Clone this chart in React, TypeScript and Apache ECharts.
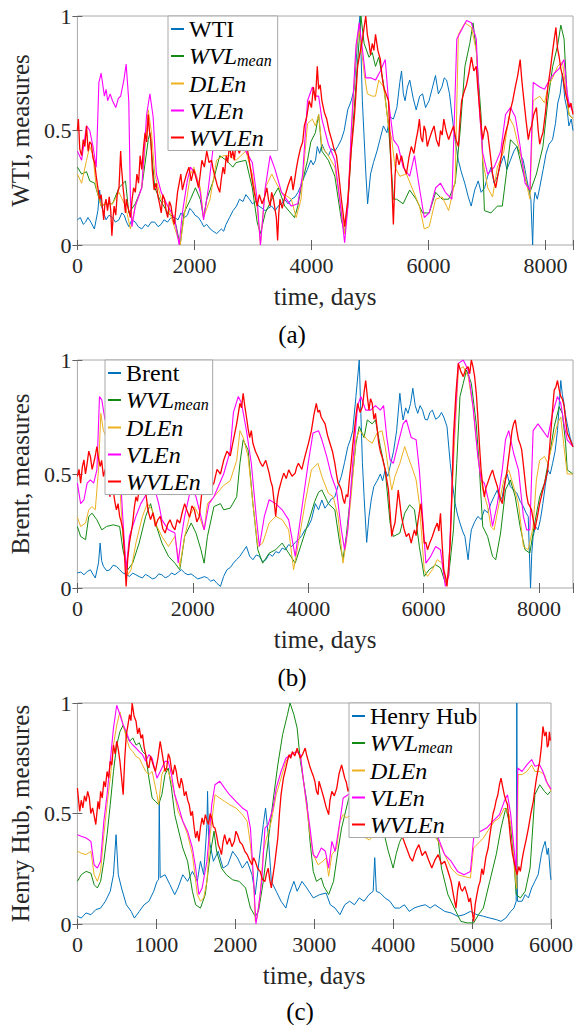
import React, { useEffect, useRef } from "react";
import * as echarts from "echarts";

// ---------- Panel (a): WTI ----------
const WTI_A = [[0,0.11],[50,0.12],[100,0.09],[140,0.1],[180,0.12],[230,0.1],[290,0.07],[350,0.15],[380,0.24],[410,0.17],[450,0.14],[490,0.11],[540,0.13],[600,0.12],[650,0.1],[710,0.11],[760,0.14],[800,0.13],[840,0.1],[880,0.08],[930,0.11],[990,0.1],[1040,0.08],[1100,0.07],[1160,0.09],[1210,0.08],[1260,0.1],[1320,0.1],[1380,0.08],[1430,0.09],[1480,0.11],[1540,0.1],[1600,0.12],[1660,0.12],[1720,0.11],[1770,0.14],[1830,0.12],[1880,0.13],[1920,0.16],[1960,0.15],[2010,0.13],[2070,0.12],[2120,0.1],[2160,0.08],[2210,0.09],[2270,0.07],[2320,0.06],[2380,0.05],[2420,0.06],[2460,0.07],[2500,0.06],[2540,0.09],[2600,0.12],[2660,0.15],[2720,0.17],[2770,0.2],[2830,0.19],[2880,0.22],[2940,0.2],[2990,0.18],[3050,0.19],[3100,0.17],[3160,0.16],[3210,0.15],[3260,0.16],[3320,0.17],[3380,0.15],[3430,0.17],[3490,0.18],[3540,0.2],[3600,0.18],[3660,0.2],[3720,0.21],[3770,0.23],[3820,0.26],[3880,0.3],[3930,0.33],[3990,0.37],[4030,0.35],[4070,0.37],[4100,0.43],[4140,0.4],[4180,0.44],[4230,0.41],[4290,0.39],[4340,0.42],[4400,0.41],[4450,0.43],[4510,0.46],[4560,0.5],[4620,0.59],[4680,0.63],[4730,0.68],[4790,0.9],[4830,1.0],[4870,0.63],[4930,0.31],[4960,0.18],[5010,0.31],[5060,0.36],[5120,0.41],[5170,0.46],[5230,0.52],[5290,0.49],[5340,0.56],[5400,0.55],[5460,0.6],[5510,0.71],[5540,0.76],[5570,0.66],[5600,0.63],[5640,0.69],[5680,0.72],[5740,0.64],[5790,0.59],[5850,0.65],[5900,0.66],[5950,0.6],[6010,0.63],[6060,0.68],[6120,0.74],[6170,0.66],[6230,0.69],[6270,0.73],[6310,0.72],[6360,0.66],[6400,0.57],[6460,0.45],[6510,0.37],[6560,0.32],[6620,0.27],[6680,0.21],[6730,0.17],[6790,0.24],[6850,0.28],[6900,0.23],[6960,0.25],[7010,0.3],[7070,0.34],[7120,0.27],[7180,0.3],[7230,0.35],[7290,0.39],[7340,0.33],[7400,0.37],[7460,0.41],[7510,0.43],[7560,0.4],[7620,0.37],[7670,0.3],[7710,0.25],[7750,0.2],[7780,0.0],[7800,0.18],[7820,0.23],[7860,0.2],[7900,0.25],[7960,0.33],[8010,0.4],[8060,0.44],[8120,0.46],[8170,0.53],[8210,0.62],[8250,0.66],[8290,0.75],[8330,0.64],[8370,0.59],[8400,0.52],[8440,0.55],[8470,0.5]];
const WVL_A = [[0,0.34],[72,0.31],[156,0.32],[211,0.28],[294,0.27],[406,0.17],[489,0.18],[600,0.18],[711,0.25],[822,0.28],[878,0.14],[989,0.18],[1100,0.25],[1211,0.46],[1239,0.49],[1322,0.25],[1406,0.2],[1544,0.14],[1656,0.12],[1756,0.0],[1822,0.14],[1933,0.2],[2017,0.25],[2100,0.2],[2156,0.12],[2211,0.2],[2322,0.28],[2433,0.39],[2544,0.37],[2656,0.34],[2711,0.36],[2878,0.37],[2989,0.25],[3072,0.1],[3128,0.05],[3211,0.14],[3322,0.2],[3433,0.25],[3544,0.17],[3711,0.12],[3767,0.17],[3822,0.25],[3933,0.37],[3989,0.45],[4067,0.49],[4123,0.57],[4178,0.41],[4289,0.37],[4400,0.3],[4511,0.11],[4567,0.05],[4623,0.17],[4678,0.41],[4761,0.7],[4845,1.0],[4900,0.88],[4984,0.82],[5039,0.84],[5095,0.78],[5150,0.82],[5234,0.7],[5317,0.52],[5400,0.2],[5456,0.2],[5567,0.18],[5678,0.24],[5789,0.2],[5900,0.14],[6012,0.14],[6123,0.23],[6234,0.2],[6345,0.2],[6456,0.27],[6539,0.49],[6623,0.78],[6706,0.88],[6762,0.97],[6817,0.85],[6900,0.56],[6956,0.15],[7067,0.14],[7178,0.17],[7262,0.17],[7345,0.34],[7401,0.46],[7512,0.43],[7623,0.31],[7734,0.23],[7845,0.31],[7956,0.43],[8040,0.63],[8123,0.78],[8206,0.87],[8262,0.96],[8317,0.9],[8373,0.63],[8401,0.57],[8470,0.55]];
const DLE_A = [[0,0.31],[72,0.27],[156,0.37],[211,0.43],[267,0.39],[322,0.25],[406,0.17],[489,0.18],[600,0.18],[711,0.23],[822,0.17],[906,0.07],[989,0.17],[1100,0.25],[1211,0.59],[1267,0.49],[1322,0.31],[1433,0.2],[1544,0.17],[1656,0.08],[1756,0.0],[1822,0.12],[1933,0.31],[1989,0.34],[2100,0.25],[2156,0.12],[2267,0.2],[2378,0.37],[2489,0.39],[2600,0.39],[2711,0.37],[2878,0.41],[2989,0.31],[3072,0.17],[3128,0.0],[3211,0.25],[3322,0.31],[3378,0.28],[3489,0.23],[3656,0.2],[3739,0.12],[3822,0.2],[3933,0.53],[4017,0.55],[4067,0.52],[4123,0.57],[4178,0.43],[4289,0.39],[4400,0.34],[4511,0.15],[4567,0.05],[4623,0.2],[4678,0.46],[4761,0.85],[4817,0.94],[4900,0.75],[4956,0.66],[5039,0.65],[5095,0.65],[5150,0.72],[5234,0.69],[5317,0.52],[5373,0.46],[5428,0.34],[5511,0.3],[5623,0.31],[5734,0.24],[5845,0.17],[5928,0.07],[6012,0.08],[6123,0.2],[6234,0.21],[6345,0.15],[6456,0.28],[6511,0.92],[6623,0.97],[6734,0.95],[6817,0.85],[6873,0.59],[6928,0.37],[7012,0.25],[7095,0.21],[7178,0.34],[7289,0.41],[7373,0.56],[7456,0.52],[7540,0.43],[7623,0.34],[7706,0.23],[7734,0.2],[7790,0.63],[7901,0.65],[7984,0.62],[8040,0.69],[8123,0.73],[8206,0.78],[8290,0.8],[8373,0.63],[8401,0.57],[8470,0.55]];
const VLE_A = [[0,0.41],[72,0.37],[156,0.52],[211,0.5],[267,0.43],[322,0.34],[367,0.71],[406,0.75],[461,0.65],[490,0.68],[517,0.63],[560,0.66],[600,0.63],[656,0.6],[700,0.64],[739,0.65],[794,0.72],[833,0.79],[878,0.63],[906,0.2],[933,0.08],[989,0.17],[1100,0.25],[1183,0.57],[1239,0.66],[1294,0.56],[1350,0.31],[1433,0.23],[1544,0.17],[1656,0.12],[1739,0.0],[1794,0.14],[1878,0.28],[1933,0.34],[2017,0.31],[2100,0.23],[2156,0.11],[2239,0.25],[2322,0.43],[2433,0.44],[2544,0.46],[2656,0.45],[2767,0.44],[2878,0.41],[2989,0.36],[3072,0.2],[3128,0.0],[3211,0.25],[3294,0.39],[3378,0.33],[3489,0.23],[3656,0.17],[3767,0.18],[3850,0.31],[3933,0.63],[4017,0.69],[4067,0.65],[4123,0.65],[4178,0.55],[4289,0.44],[4400,0.37],[4484,0.2],[4567,0.01],[4623,0.17],[4678,0.49],[4761,0.87],[4817,0.97],[4873,0.85],[4928,0.73],[5011,0.73],[5095,0.72],[5178,0.76],[5261,0.81],[5317,0.63],[5400,0.46],[5484,0.43],[5567,0.34],[5678,0.3],[5761,0.39],[5845,0.25],[5928,0.12],[6012,0.14],[6123,0.25],[6206,0.27],[6289,0.23],[6400,0.2],[6484,0.9],[6567,0.94],[6650,0.98],[6734,0.97],[6817,0.9],[6873,0.58],[6928,0.4],[7012,0.31],[7123,0.34],[7234,0.41],[7317,0.57],[7401,0.6],[7484,0.56],[7567,0.43],[7651,0.27],[7734,0.24],[7790,0.71],[7901,0.69],[7984,0.68],[8067,0.72],[8151,0.75],[8234,0.77],[8317,0.81],[8373,0.66],[8401,0.62],[8470,0.58]];
const WVLE_A = [[0,0.5],[17,0.55],[40,0.42],[72,0.39],[100,0.46],[128,0.43],[156,0.52],[183,0.41],[211,0.45],[239,0.44],[267,0.38],[294,0.36],[322,0.3],[350,0.25],[378,0.2],[406,0.22],[430,0.16],[450,0.11],[470,0.18],[489,0.2],[515,0.15],[544,0.21],[570,0.15],[589,0.04],[610,0.12],[628,0.17],[655,0.13],[680,0.22],[711,0.25],[725,0.33],[739,0.41],[753,0.34],[767,0.3],[780,0.25],[794,0.22],[808,0.17],[822,0.14],[836,0.2],[850,0.18],[878,0.15],[906,0.12],[935,0.2],[961,0.25],[990,0.23],[1017,0.31],[1045,0.27],[1072,0.39],[1100,0.33],[1128,0.42],[1156,0.49],[1183,0.45],[1211,0.57],[1230,0.5],[1256,0.46],[1280,0.33],[1311,0.24],[1345,0.27],[1378,0.21],[1405,0.18],[1433,0.14],[1460,0.22],[1489,0.2],[1515,0.15],[1544,0.12],[1572,0.19],[1600,0.17],[1628,0.12],[1656,0.09],[1683,0.16],[1711,0.23],[1740,0.27],[1767,0.31],[1795,0.24],[1822,0.27],[1865,0.31],[1906,0.34],[1945,0.28],[1989,0.33],[2030,0.29],[2072,0.25],[2100,0.31],[2128,0.37],[2170,0.34],[2211,0.41],[2250,0.36],[2294,0.37],[2320,0.33],[2350,0.3],[2390,0.26],[2433,0.23],[2460,0.29],[2489,0.34],[2515,0.31],[2544,0.39],[2570,0.36],[2600,0.44],[2628,0.38],[2656,0.41],[2683,0.37],[2711,0.45],[2740,0.42],[2767,0.4],[2820,0.44],[2878,0.46],[2930,0.38],[2989,0.28],[3030,0.22],[3072,0.17],[3110,0.22],[3156,0.18],[3200,0.21],[3239,0.25],[3265,0.2],[3294,0.17],[3320,0.23],[3350,0.2],[3375,0.16],[3400,0.12],[3422,0.02],[3440,0.13],[3461,0.2],[3500,0.16],[3544,0.21],[3600,0.26],[3656,0.3],[3685,0.24],[3711,0.28],[3740,0.33],[3767,0.37],[3810,0.42],[3850,0.45],[3878,0.52],[3920,0.56],[3961,0.63],[4000,0.6],[4033,0.69],[4067,0.63],[4100,0.78],[4123,0.68],[4150,0.7],[4178,0.63],[4220,0.58],[4261,0.55],[4300,0.5],[4345,0.46],[4385,0.42],[4428,0.39],[4470,0.3],[4511,0.2],[4540,0.14],[4567,0.08],[4595,0.14],[4623,0.2],[4650,0.3],[4678,0.41],[4705,0.48],[4734,0.56],[4760,0.66],[4789,0.78],[4830,0.84],[4873,0.9],[4900,0.95],[4928,1.0],[4955,0.92],[4984,0.88],[5010,0.83],[5039,0.88],[5067,0.85],[5095,0.92],[5135,0.85],[5178,0.81],[5205,0.74],[5234,0.69],[5275,0.66],[5317,0.63],[5345,0.45],[5373,0.27],[5400,0.09],[5428,0.3],[5456,0.4],[5497,0.35],[5539,0.39],[5580,0.34],[5623,0.31],[5665,0.38],[5706,0.43],[5750,0.4],[5789,0.46],[5820,0.5],[5845,0.55],[5872,0.47],[5900,0.45],[5925,0.52],[5950,0.5],[5980,0.43],[6012,0.46],[6050,0.49],[6095,0.52],[6135,0.46],[6178,0.43],[6205,0.5],[6234,0.48],[6262,0.55],[6300,0.5],[6345,0.46],[6385,0.49],[6428,0.52],[6470,0.46],[6511,0.43],[6540,0.55],[6567,0.63],[6610,0.67],[6650,0.7],[6690,0.75],[6734,0.82],[6775,0.76],[6817,0.78],[6845,0.68],[6873,0.6],[6900,0.52],[6928,0.46],[6970,0.52],[7012,0.49],[7050,0.41],[7095,0.31],[7120,0.28],[7150,0.25],[7190,0.31],[7234,0.37],[7275,0.44],[7317,0.49],[7360,0.53],[7401,0.59],[7440,0.63],[7484,0.69],[7525,0.74],[7567,0.81],[7595,0.72],[7623,0.65],[7665,0.55],[7706,0.46],[7735,0.5],[7762,0.52],[7800,0.57],[7845,0.6],[7875,0.5],[7901,0.44],[7930,0.47],[7956,0.49],[8000,0.58],[8040,0.69],[8080,0.76],[8123,0.85],[8150,0.9],[8178,0.95],[8205,0.86],[8234,0.82],[8262,0.77],[8290,0.74],[8318,0.7],[8345,0.66],[8375,0.63],[8401,0.6],[8435,0.62],[8470,0.57]];

// ---------- Panel (b): Brent ----------
const BRENT_B = [[0,0.066],[60,0.07],[113,0.058],[170,0.072],[225,0.08],[270,0.06],[310,0.044],[366,0.11],[394,0.197],[420,0.12],[451,0.095],[510,0.075],[563,0.08],[620,0.1],[676,0.095],[730,0.08],[789,0.066],[845,0.06],[901,0.051],[960,0.065],[1014,0.058],[1070,0.05],[1127,0.044],[1180,0.06],[1239,0.051],[1300,0.04],[1352,0.044],[1410,0.062],[1465,0.058],[1520,0.045],[1578,0.051],[1630,0.066],[1690,0.058],[1750,0.07],[1803,0.08],[1860,0.066],[1916,0.058],[1970,0.062],[2028,0.051],[2085,0.04],[2141,0.044],[2200,0.05],[2254,0.044],[2310,0.03],[2366,0.036],[2420,0.02],[2479,0.007],[2535,0.051],[2592,0.08],[2650,0.09],[2704,0.109],[2760,0.125],[2817,0.139],[2870,0.16],[2930,0.182],[2985,0.14],[3042,0.124],[3100,0.145],[3155,0.139],[3210,0.115],[3268,0.124],[3325,0.15],[3380,0.139],[3440,0.16],[3493,0.153],[3550,0.175],[3606,0.168],[3660,0.19],[3718,0.182],[3775,0.2],[3831,0.212],[3890,0.23],[3944,0.255],[4000,0.27],[4056,0.299],[4124,0.37],[4180,0.343],[4237,0.386],[4290,0.35],[4349,0.37],[4400,0.39],[4462,0.4],[4520,0.45],[4575,0.489],[4630,0.55],[4687,0.62],[4730,0.65],[4772,0.69],[4828,0.84],[4885,1.0],[4913,0.766],[4940,0.55],[4969,0.4],[5014,0.2],[5054,0.314],[5095,0.39],[5138,0.445],[5195,0.47],[5251,0.5],[5290,0.47],[5335,0.518],[5380,0.49],[5420,0.533],[5480,0.6],[5533,0.69],[5589,0.854],[5620,0.78],[5645,0.737],[5690,0.79],[5730,0.766],[5775,0.81],[5814,0.876],[5855,0.8],[5899,0.766],[5940,0.8],[5983,0.78],[6025,0.74],[6068,0.737],[6110,0.77],[6152,0.78],[6210,0.74],[6265,0.75],[6310,0.77],[6350,0.75],[6406,0.708],[6462,0.547],[6505,0.45],[6547,0.37],[6590,0.32],[6631,0.285],[6675,0.25],[6716,0.226],[6772,0.124],[6800,0.2],[6828,0.255],[6885,0.29],[6941,0.314],[7000,0.3],[7054,0.343],[7110,0.33],[7166,0.37],[7220,0.4],[7279,0.43],[7320,0.38],[7364,0.4],[7405,0.46],[7448,0.5],[7504,0.445],[7560,0.43],[7617,0.416],[7675,0.38],[7730,0.357],[7775,0.33],[7814,0.314],[7835,0.15],[7854,0.0],[7875,0.15],[7899,0.226],[7940,0.27],[7983,0.255],[8025,0.3],[8068,0.37],[8110,0.45],[8152,0.518],[8195,0.5],[8237,0.547],[8280,0.6],[8321,0.69],[8350,0.8],[8378,0.91],[8405,0.85],[8434,0.81],[8460,0.76],[8490,0.72],[8540,0.66],[8590,0.62]];
const WVL_B = [[0,0.27],[56,0.226],[141,0.212],[197,0.314],[254,0.328],[338,0.299],[423,0.255],[507,0.27],[620,0.277],[732,0.27],[789,0.168],[873,0.08],[958,0.109],[1070,0.197],[1183,0.314],[1268,0.37],[1352,0.285],[1465,0.197],[1578,0.139],[1690,0.109],[1775,0.08],[1859,0.226],[1972,0.285],[2056,0.241],[2141,0.168],[2197,0.109],[2254,0.226],[2366,0.357],[2479,0.37],[2535,0.343],[2648,0.35],[2761,0.4],[2817,0.547],[2873,0.65],[2958,0.606],[3042,0.37],[3127,0.168],[3211,0.109],[3324,0.153],[3437,0.168],[3549,0.197],[3662,0.153],[3775,0.109],[3887,0.197],[4000,0.285],[4113,0.38],[4180,0.42],[4237,0.43],[4349,0.37],[4462,0.343],[4547,0.197],[4603,0.124],[4659,0.226],[4744,0.43],[4828,0.635],[4885,0.708],[4969,0.66],[5025,0.737],[5110,0.72],[5166,0.737],[5251,0.62],[5335,0.518],[5420,0.285],[5476,0.226],[5589,0.241],[5673,0.328],[5758,0.365],[5842,0.343],[5927,0.182],[6011,0.051],[6096,0.08],[6209,0.102],[6293,0.088],[6378,0.022],[6434,0.051],[6518,0.255],[6575,0.547],[6631,0.84],[6688,0.898],[6744,0.956],[6828,0.898],[6913,0.72],[6969,0.518],[7025,0.27],[7110,0.226],[7195,0.139],[7251,0.124],[7335,0.241],[7420,0.43],[7504,0.474],[7589,0.4],[7673,0.27],[7758,0.168],[7842,0.153],[7927,0.285],[8012,0.4],[8096,0.46],[8180,0.577],[8265,0.708],[8350,0.795],[8406,0.766],[8462,0.635],[8490,0.518],[8590,0.5]];
const DLE_B = [[0,0.31],[56,0.27],[141,0.285],[197,0.343],[254,0.357],[310,0.343],[366,0.52],[406,0.766],[451,0.69],[507,0.66],[592,0.68],[648,0.66],[720,0.5],[789,0.226],[873,0.058],[930,0.08],[1014,0.197],[1127,0.314],[1211,0.37],[1296,0.343],[1380,0.27],[1465,0.226],[1578,0.182],[1690,0.226],[1775,0.095],[1859,0.226],[1944,0.314],[2028,0.357],[2113,0.314],[2197,0.255],[2254,0.37],[2366,0.4],[2535,0.45],[2648,0.47],[2761,0.56],[2817,0.69],[2873,0.66],[2958,0.577],[3042,0.37],[3127,0.182],[3211,0.197],[3324,0.285],[3437,0.314],[3549,0.3],[3662,0.255],[3747,0.08],[3831,0.197],[3944,0.37],[4056,0.518],[4169,0.547],[4237,0.489],[4349,0.416],[4434,0.4],[4518,0.314],[4603,0.109],[4659,0.197],[4744,0.4],[4828,0.65],[4885,0.69],[4941,0.677],[5025,0.65],[5110,0.635],[5195,0.68],[5279,0.69],[5335,0.62],[5392,0.518],[5448,0.43],[5504,0.489],[5589,0.547],[5673,0.62],[5730,0.577],[5814,0.518],[5871,0.474],[5927,0.37],[6011,0.08],[6068,0.051],[6152,0.08],[6237,0.124],[6321,0.109],[6378,0.022],[6434,0.066],[6518,0.547],[6603,0.956],[6688,0.971],[6772,0.927],[6857,0.795],[6941,0.577],[7025,0.43],[7110,0.357],[7166,0.27],[7223,0.255],[7307,0.37],[7392,0.474],[7476,0.518],[7561,0.445],[7645,0.37],[7730,0.182],[7814,0.168],[7899,0.27],[7955,0.474],[8012,0.56],[8096,0.577],[8152,0.547],[8237,0.635],[8321,0.72],[8378,0.75],[8434,0.62],[8490,0.5],[8590,0.5]];
const VLE_B = [[0,0.46],[56,0.37],[113,0.386],[169,0.46],[225,0.474],[282,0.46],[338,0.518],[383,0.84],[423,0.825],[479,0.737],[535,0.75],[620,0.737],[676,0.7],[732,0.55],[789,0.3],[845,0.08],[901,0.226],[1014,0.314],[1099,0.37],[1239,0.43],[1324,0.45],[1409,0.37],[1465,0.299],[1578,0.255],[1690,0.241],[1747,0.11],[1803,0.226],[1859,0.314],[1972,0.445],[2056,0.4],[2141,0.314],[2197,0.255],[2282,0.37],[2366,0.4],[2535,0.5],[2648,0.6],[2704,0.77],[2789,0.84],[2845,0.81],[2930,0.69],[3014,0.547],[3099,0.314],[3155,0.182],[3240,0.314],[3324,0.387],[3437,0.37],[3549,0.343],[3662,0.299],[3775,0.139],[3887,0.343],[4000,0.547],[4084,0.68],[4180,0.69],[4237,0.65],[4321,0.577],[4406,0.489],[4490,0.43],[4575,0.255],[4631,0.168],[4687,0.255],[4772,0.547],[4857,0.8],[4913,0.84],[4997,0.78],[5082,0.78],[5166,0.8],[5251,0.78],[5307,0.8],[5363,0.66],[5420,0.562],[5476,0.547],[5561,0.635],[5645,0.72],[5701,0.737],[5786,0.66],[5871,0.65],[5927,0.518],[5983,0.314],[6040,0.109],[6124,0.139],[6209,0.182],[6293,0.168],[6378,0.007],[6434,0.051],[6518,0.62],[6603,0.985],[6688,1.0],[6772,0.956],[6857,0.795],[6941,0.577],[6997,0.474],[7054,0.46],[7138,0.37],[7195,0.27],[7279,0.37],[7364,0.518],[7420,0.65],[7476,0.69],[7561,0.591],[7645,0.518],[7730,0.314],[7786,0.255],[7842,0.255],[7899,0.69],[7983,0.72],[8068,0.69],[8152,0.66],[8237,0.766],[8321,0.84],[8378,0.81],[8434,0.72],[8490,0.65],[8590,0.62]];
const WVLE_B = [[0,0.49],[28,0.52],[56,0.46],[85,0.53],[113,0.562],[140,0.5],[169,0.547],[197,0.6],[225,0.577],[255,0.52],[282,0.547],[310,0.58],[338,0.62],[366,0.57],[394,0.533],[420,0.56],[451,0.489],[480,0.52],[507,0.43],[535,0.47],[563,0.4],[590,0.45],[620,0.43],[648,0.38],[676,0.343],[705,0.37],[732,0.314],[760,0.29],[789,0.255],[815,0.15],[845,0.007],[870,0.12],[901,0.197],[930,0.24],[958,0.285],[985,0.35],[1014,0.4],[1040,0.38],[1070,0.43],[1130,0.45],[1183,0.42],[1225,0.34],[1268,0.3],[1310,0.33],[1352,0.27],[1395,0.3],[1437,0.314],[1480,0.26],[1521,0.241],[1565,0.28],[1606,0.299],[1650,0.27],[1690,0.255],[1730,0.3],[1775,0.285],[1815,0.33],[1859,0.37],[1900,0.34],[1944,0.31],[1985,0.36],[2028,0.343],[2070,0.29],[2113,0.314],[2140,0.38],[2169,0.445],[2210,0.42],[2254,0.474],[2310,0.44],[2366,0.46],[2420,0.52],[2479,0.5],[2535,0.56],[2592,0.6],[2650,0.58],[2704,0.65],[2760,0.72],[2817,0.81],[2845,0.79],[2873,0.854],[2900,0.8],[2930,0.75],[2958,0.7],[2986,0.66],[3015,0.69],[3042,0.635],[3085,0.6],[3127,0.577],[3170,0.55],[3211,0.533],[3265,0.56],[3324,0.504],[3350,0.47],[3380,0.445],[3410,0.38],[3437,0.314],[3465,0.39],[3493,0.43],[3535,0.47],[3577,0.504],[3620,0.48],[3662,0.518],[3720,0.49],[3775,0.504],[3800,0.53],[3831,0.547],[3890,0.52],[3944,0.577],[4000,0.63],[4056,0.69],[4100,0.76],[4141,0.81],[4170,0.77],[4197,0.78],[4225,0.75],[4254,0.737],[4293,0.72],[4335,0.67],[4377,0.635],[4420,0.6],[4462,0.547],[4490,0.5],[4518,0.46],[4545,0.45],[4575,0.43],[4605,0.39],[4631,0.37],[4660,0.41],[4687,0.4],[4715,0.48],[4744,0.547],[4770,0.62],[4800,0.69],[4830,0.76],[4857,0.81],[4900,0.77],[4941,0.796],[4970,0.86],[4997,0.91],[5025,0.84],[5054,0.78],[5080,0.83],[5110,0.81],[5140,0.74],[5166,0.766],[5195,0.7],[5223,0.635],[5250,0.6],[5279,0.577],[5305,0.55],[5335,0.518],[5365,0.47],[5392,0.43],[5420,0.33],[5448,0.226],[5475,0.26],[5504,0.285],[5535,0.36],[5561,0.43],[5590,0.37],[5617,0.314],[5660,0.26],[5701,0.226],[5745,0.24],[5786,0.197],[5815,0.23],[5842,0.255],[5870,0.23],[5899,0.285],[5925,0.33],[5955,0.37],[5985,0.28],[6011,0.197],[6040,0.2],[6068,0.168],[6110,0.2],[6152,0.226],[6195,0.26],[6237,0.285],[6265,0.25],[6293,0.328],[6320,0.2],[6350,0.08],[6380,0.05],[6406,0.007],[6435,0.1],[6462,0.197],[6490,0.4],[6518,0.664],[6560,0.85],[6603,0.985],[6645,0.95],[6688,0.927],[6730,0.96],[6772,0.971],[6800,0.94],[6828,1.0],[6857,0.97],[6885,0.927],[6915,0.85],[6941,0.75],[6970,0.62],[6997,0.518],[7025,0.45],[7054,0.4],[7080,0.44],[7110,0.46],[7150,0.49],[7195,0.518],[7235,0.48],[7279,0.445],[7320,0.4],[7364,0.37],[7405,0.45],[7448,0.518],[7490,0.6],[7533,0.69],[7560,0.72],[7589,0.737],[7617,0.69],[7645,0.65],[7675,0.63],[7701,0.606],[7730,0.54],[7758,0.474],[7785,0.41],[7814,0.37],[7840,0.36],[7870,0.343],[7900,0.3],[7927,0.255],[7970,0.31],[8012,0.37],[8040,0.4],[8068,0.43],[8110,0.47],[8152,0.518],[8180,0.6],[8208,0.69],[8235,0.78],[8265,0.869],[8293,0.88],[8321,0.91],[8350,0.87],[8378,0.84],[8405,0.83],[8434,0.8],[8460,0.74],[8490,0.68],[8540,0.65],[8590,0.62]];

// ---------- Panel (c): Henry Hub ----------
const HH_C = [[0,0.035],[49,0.027],[110,0.05],[171,0.042],[233,0.065],[294,0.072],[355,0.103],[416,0.148],[457,0.223],[490,0.404],[518,0.223],[559,0.163],[620,0.087],[682,0.057],[722,0.027],[784,0.057],[845,0.087],[906,0.103],[967,0.148],[1008,0.193],[1029,0.2],[1037,0.555],[1049,0.21],[1110,0.223],[1172,0.178],[1233,0.133],[1274,0.163],[1335,0.223],[1396,0.193],[1457,0.238],[1519,0.193],[1559,0.284],[1600,0.223],[1641,0.45],[1649,0.6],[1661,0.4],[1682,0.359],[1723,0.284],[1784,0.329],[1845,0.253],[1906,0.268],[1967,0.329],[2029,0.299],[2090,0.253],[2151,0.284],[2212,0.223],[2253,0.133],[2315,0.329],[2355,0.45],[2384,0.525],[2417,0.404],[2457,0.193],[2519,0.148],[2580,0.103],[2641,0.072],[2682,0.133],[2743,0.193],[2784,0.148],[2845,0.193],[2906,0.163],[2988,0.118],[3070,0.133],[3151,0.14],[3204,0.087],[3265,0.072],[3326,0.042],[3387,0.087],[3449,0.103],[3510,0.087],[3571,0.118],[3632,0.103],[3694,0.133],[3747,0.148],[3767,0.3],[3787,0.148],[3836,0.14],[3898,0.118],[3959,0.103],[4020,0.072],[4081,0.072],[4143,0.087],[4204,0.057],[4265,0.072],[4326,0.08],[4408,0.087],[4469,0.072],[4530,0.087],[4592,0.072],[4653,0.057],[4734,0.05],[4816,0.035],[4898,0.042],[4979,0.057],[5061,0.042],[5143,0.035],[5224,0.027],[5306,0.02],[5367,0.012],[5428,0.027],[5490,0.057],[5531,0.072],[5559,0.103],[5567,1.0],[5575,0.103],[5633,0.103],[5673,0.133],[5714,0.118],[5755,0.163],[5796,0.193],[5837,0.223],[5878,0.314],[5898,0.344],[5926,0.374],[5951,0.314],[5967,0.344],[5992,0.223],[6000,0.2]];
const WVL_C = [[0,0.193],[49,0.223],[110,0.238],[171,0.23],[212,0.178],[253,0.163],[294,0.193],[335,0.284],[376,0.404],[416,0.54],[457,0.69],[498,0.81],[539,0.87],[580,0.9],[620,0.857],[661,0.827],[702,0.842],[743,0.81],[784,0.82],[825,0.78],[865,0.766],[906,0.66],[947,0.57],[988,0.555],[1029,0.54],[1070,0.585],[1110,0.676],[1151,0.706],[1192,0.615],[1233,0.495],[1274,0.434],[1335,0.344],[1396,0.284],[1457,0.148],[1498,0.087],[1559,0.072],[1620,0.133],[1682,0.314],[1731,0.42],[1763,0.33],[1825,0.253],[1886,0.223],[1967,0.2],[2049,0.193],[2131,0.163],[2192,0.072],[2253,0.035],[2294,0.057],[2355,0.193],[2417,0.374],[2478,0.555],[2539,0.72],[2600,0.857],[2661,0.947],[2694,1.0],[2743,0.947],[2784,0.887],[2825,0.736],[2865,0.646],[2906,0.555],[2947,0.374],[2988,0.238],[3029,0.193],[3090,0.208],[3122,0.17],[3183,0.133],[3245,0.193],[3306,0.344],[3347,0.434],[3408,0.525],[3449,0.585],[3490,0.646],[3530,0.676],[3600,0.7],[3700,0.65],[3800,0.55],[3870,0.45],[3898,0.39],[3938,0.33],[4000,0.253],[4041,0.32],[4081,0.37],[4122,0.4],[4200,0.45],[4300,0.48],[4450,0.45],[4571,0.38],[4612,0.253],[4694,0.133],[4775,0.072],[4857,0.012],[4939,0.005],[5020,0.005],[5081,0.042],[5143,0.072],[5224,0.193],[5306,0.314],[5367,0.434],[5428,0.525],[5490,0.434],[5531,0.284],[5559,0.133],[5612,0.118],[5673,0.148],[5735,0.253],[5796,0.585],[5857,0.63],[5918,0.6],[5959,0.585],[5992,0.6],[6000,0.6]];
const DLE_C = [[0,0.33],[49,0.32],[110,0.314],[171,0.329],[212,0.223],[253,0.193],[294,0.238],[335,0.404],[376,0.54],[416,0.66],[457,0.81],[498,0.9],[539,0.96],[580,0.9],[620,0.842],[661,0.796],[702,0.78],[743,0.758],[784,0.75],[825,0.72],[865,0.69],[906,0.676],[947,0.69],[1008,0.585],[1029,0.54],[1070,0.676],[1110,0.706],[1151,0.69],[1192,0.646],[1233,0.585],[1274,0.51],[1335,0.465],[1396,0.404],[1457,0.314],[1519,0.133],[1559,0.103],[1600,0.118],[1641,0.193],[1682,0.404],[1743,0.585],[1804,0.57],[1865,0.555],[1927,0.54],[2008,0.525],[2090,0.495],[2151,0.465],[2192,0.359],[2233,0.193],[2253,0.012],[2274,0.027],[2315,0.133],[2355,0.329],[2396,0.389],[2457,0.465],[2519,0.585],[2580,0.66],[2641,0.736],[2702,0.766],[2763,0.78],[2825,0.766],[2865,0.646],[2906,0.525],[2947,0.404],[2988,0.314],[3049,0.268],[3110,0.284],[3151,0.299],[3183,0.216],[3224,0.314],[3286,0.344],[3326,0.465],[3367,0.495],[3408,0.48],[3469,0.495],[3502,0.465],[3600,0.4],[3700,0.38],[3800,0.42],[3900,0.45],[4000,0.42],[4100,0.44],[4200,0.46],[4300,0.44],[4400,0.42],[4500,0.41],[4571,0.374],[4653,0.314],[4734,0.253],[4816,0.223],[4898,0.215],[4979,0.208],[5020,0.344],[5061,0.359],[5143,0.389],[5224,0.434],[5286,0.465],[5347,0.48],[5408,0.525],[5469,0.495],[5510,0.404],[5551,0.193],[5567,0.16],[5583,0.676],[5633,0.676],[5694,0.69],[5755,0.72],[5796,0.69],[5857,0.69],[5918,0.676],[5959,0.63],[5992,0.61],[6000,0.6]];
const VLE_C = [[0,0.404],[49,0.397],[110,0.389],[171,0.374],[212,0.268],[253,0.253],[294,0.284],[335,0.465],[376,0.585],[416,0.736],[457,0.887],[498,0.99],[539,0.947],[580,0.9],[620,0.87],[661,0.827],[702,0.81],[743,0.796],[784,0.78],[825,0.766],[865,0.736],[906,0.766],[947,0.75],[1008,0.66],[1049,0.69],[1110,0.736],[1151,0.736],[1192,0.676],[1233,0.585],[1274,0.54],[1335,0.465],[1396,0.42],[1457,0.344],[1498,0.253],[1539,0.133],[1580,0.163],[1641,0.284],[1702,0.54],[1743,0.63],[1804,0.646],[1865,0.615],[1927,0.585],[2008,0.555],[2090,0.525],[2151,0.51],[2192,0.434],[2233,0.193],[2262,0.0],[2294,0.072],[2335,0.193],[2376,0.434],[2417,0.45],[2478,0.525],[2519,0.615],[2580,0.69],[2641,0.75],[2702,0.766],[2784,0.78],[2825,0.766],[2865,0.646],[2906,0.54],[2947,0.434],[2988,0.314],[3029,0.299],[3090,0.344],[3142,0.329],[3183,0.253],[3224,0.374],[3265,0.329],[3326,0.465],[3367,0.57],[3428,0.585],[3490,0.6],[3600,0.62],[3700,0.6],[3800,0.58],[3900,0.56],[4000,0.55],[4100,0.53],[4200,0.5],[4300,0.48],[4450,0.42],[4571,0.39],[4653,0.314],[4734,0.284],[4816,0.238],[4898,0.223],[4979,0.238],[5020,0.389],[5102,0.419],[5184,0.434],[5265,0.465],[5347,0.495],[5408,0.555],[5449,0.585],[5490,0.495],[5531,0.344],[5559,0.238],[5579,0.706],[5633,0.69],[5694,0.72],[5755,0.744],[5796,0.714],[5857,0.72],[5898,0.69],[5939,0.646],[5992,0.615],[6000,0.61]];
const WVLE_C = [[0,0.615],[29,0.51],[49,0.56],[69,0.525],[90,0.58],[110,0.555],[130,0.6],[151,0.57],[170,0.5],[192,0.525],[212,0.49],[233,0.45],[261,0.555],[278,0.52],[294,0.6],[315,0.57],[335,0.646],[355,0.62],[376,0.69],[396,0.66],[416,0.736],[436,0.72],[457,0.81],[478,0.77],[498,0.827],[518,0.79],[539,0.736],[560,0.66],[580,0.585],[600,0.75],[620,0.857],[640,0.9],[661,0.947],[678,0.92],[694,1.0],[718,0.94],[743,0.917],[763,0.86],[784,0.887],[805,0.84],[825,0.857],[845,0.8],[865,0.766],[885,0.72],[906,0.706],[926,0.76],[947,0.736],[968,0.71],[988,0.69],[1020,0.75],[1049,0.827],[1070,0.78],[1090,0.736],[1110,0.69],[1131,0.706],[1152,0.77],[1172,0.75],[1192,0.7],[1212,0.676],[1233,0.72],[1253,0.69],[1274,0.64],[1294,0.615],[1315,0.66],[1335,0.63],[1355,0.58],[1376,0.6],[1397,0.56],[1417,0.54],[1437,0.49],[1457,0.51],[1478,0.44],[1498,0.389],[1518,0.42],[1539,0.374],[1560,0.44],[1580,0.48],[1600,0.45],[1621,0.495],[1641,0.47],[1661,0.45],[1682,0.5],[1702,0.48],[1722,0.44],[1743,0.434],[1764,0.4],[1784,0.359],[1805,0.34],[1825,0.314],[1845,0.37],[1865,0.404],[1896,0.36],[1927,0.389],[1958,0.35],[1988,0.374],[2008,0.42],[2029,0.404],[2060,0.37],[2090,0.359],[2120,0.33],[2151,0.314],[2180,0.29],[2212,0.268],[2233,0.3],[2253,0.284],[2285,0.25],[2315,0.238],[2345,0.2],[2376,0.193],[2397,0.23],[2417,0.253],[2437,0.2],[2457,0.163],[2478,0.22],[2498,0.268],[2519,0.33],[2539,0.389],[2560,0.5],[2580,0.585],[2610,0.66],[2641,0.706],[2662,0.74],[2682,0.766],[2703,0.75],[2723,0.78],[2754,0.76],[2784,0.796],[2805,0.77],[2825,0.75],[2856,0.77],[2886,0.796],[2907,0.76],[2927,0.736],[2947,0.71],[2967,0.69],[2988,0.67],[3008,0.646],[3029,0.6],[3049,0.585],[3061,0.646],[3090,0.61],[3122,0.57],[3150,0.53],[3183,0.495],[3200,0.56],[3224,0.6],[3255,0.58],[3286,0.615],[3315,0.68],[3347,0.72],[3367,0.69],[3387,0.66],[3408,0.64],[3428,0.6],[3449,0.62],[3469,0.585],[3550,0.62],[3650,0.65],[3750,0.58],[3850,0.55],[3950,0.5],[4050,0.45],[4122,0.39],[4153,0.36],[4184,0.33],[4215,0.3],[4245,0.284],[4285,0.33],[4326,0.359],[4367,0.31],[4408,0.329],[4449,0.29],[4490,0.253],[4530,0.29],[4571,0.314],[4612,0.27],[4653,0.284],[4694,0.24],[4734,0.193],[4765,0.13],[4796,0.072],[4817,0.15],[4837,0.193],[4857,0.16],[4877,0.148],[4908,0.17],[4939,0.133],[4959,0.1],[4979,0.118],[5000,0.06],[5020,0.012],[5040,0.09],[5061,0.133],[5082,0.17],[5102,0.193],[5123,0.25],[5143,0.223],[5174,0.3],[5204,0.344],[5225,0.4],[5245,0.449],[5266,0.5],[5286,0.525],[5306,0.56],[5327,0.585],[5347,0.63],[5367,0.66],[5388,0.62],[5408,0.585],[5428,0.56],[5449,0.54],[5470,0.45],[5490,0.374],[5510,0.32],[5531,0.284],[5551,0.25],[5571,0.223],[5592,0.26],[5612,0.238],[5633,0.29],[5653,0.329],[5684,0.38],[5714,0.434],[5745,0.5],[5776,0.555],[5796,0.61],[5816,0.66],[5837,0.7],[5857,0.736],[5878,0.8],[5898,0.894],[5919,0.85],[5939,0.87],[5953,0.8],[5967,0.81],[5980,0.87],[5992,0.83],[6000,0.83]];

// ---------- labels ----------
const PANEL_Y_NAMES = ["WTI, measures", "Brent, measures", "Henry Hub, measures"];
const PANEL_FIRST = ["WTI", "Brent", "Henry Hub"];
const MEASURE_NAMES = ["WVLmean", "DLEn", "VLEn", "WVLEn"];
const CAPTIONS = ["(a)", "(b)", "(c)"];
const X_MAX = [8470, 8590, 6000];
const X_INTERVAL = [2000, 2000, 1000];
const X_NAME = "time, days";

const COLORS = ["#0072BD", "#138A13", "#EDB120", "#FF00FF", "#FF0000"];
const WIDTHS = [1, 1, 1, 1.1, 1.3];
const PANEL_DATA = [
  [WTI_A, WVL_A, DLE_A, VLE_A, WVLE_A],
  [BRENT_B, WVL_B, DLE_B, VLE_B, WVLE_B],
  [HH_C, WVL_C, DLE_C, VLE_C, WVLE_C],
];

const GRIDS = [
  { left: 67, top: 16, width: 507, height: 229 },
  { left: 67, top: 360, width: 507, height: 228 },
  { left: 63, top: 703, width: 490, height: 221 },
];
const LEGEND_POS = [
  { left: 168, top: 16 },
  { left: 105, top: 360 },
  { left: 349, top: 703 },
];
const LEGEND_PAD_RIGHT = [6, 4, 2];
const CAPTION_POS = [
  [292, 334],
  [292, 677],
  [300, 1011],
];

const FONT = "Liberation Serif";
const TXT = "#262626";

function App() {
  const ref = useRef<HTMLDivElement>(null);
  useEffect(() => {
    if (!ref.current) return;
    const chart = echarts.init(ref.current, null, { renderer: "svg" });
    const xAxis: any[] = [];
    const yAxis: any[] = [];
    const series: any[] = [];
    const legend: any[] = [];
    const graphic: any[] = [];
    const tickStyle = { inside: true, length: 5, lineStyle: { color: "#606060", width: 1 } };

    GRIDS.forEach((g, i) => {
      xAxis.push({
        type: "value", gridIndex: i, position: "bottom", min: 0, max: X_MAX[i], interval: X_INTERVAL[i],
        axisLine: { show: false }, splitLine: { show: false }, axisTick: tickStyle,
        axisLabel: {
          fontFamily: FONT, fontSize: 22, color: TXT, margin: 9,
          formatter: (v: number) => (v % X_INTERVAL[i] === 0 ? String(v) : ""),
        },
        name: X_NAME, nameLocation: "middle", nameGap: 39,
        nameTextStyle: { fontFamily: FONT, fontSize: 25, color: TXT },
      });
      xAxis.push({
        type: "value", gridIndex: i, position: "top", min: 0, max: X_MAX[i], interval: X_INTERVAL[i],
        axisLine: { show: false }, splitLine: { show: false }, axisTick: tickStyle, axisLabel: { show: false },
      });
      yAxis.push({
        type: "value", gridIndex: i, position: "left", min: 0, max: 1, interval: 0.5,
        axisLine: { show: false }, splitLine: { show: false }, axisTick: tickStyle,
        axisLabel: { fontFamily: FONT, fontSize: 22, color: TXT, margin: 6 },
        name: PANEL_Y_NAMES[i], nameLocation: "middle", nameGap: 33,
        nameTextStyle: { fontFamily: FONT, fontSize: 25, color: TXT },
      });
      yAxis.push({
        type: "value", gridIndex: i, position: "right", min: 0, max: 1, interval: 0.5,
        axisLine: { show: false }, splitLine: { show: false }, axisTick: tickStyle, axisLabel: { show: false },
      });
      const names = [PANEL_FIRST[i], ...MEASURE_NAMES];
      names.forEach((nm, k) => {
        series.push({
          type: "line", name: nm, xAxisIndex: 2 * i, yAxisIndex: 2 * i,
          data: PANEL_DATA[i][k], showSymbol: false, symbol: "none",
          lineStyle: { color: COLORS[k], width: WIDTHS[k] }, itemStyle: { color: COLORS[k] },
          emphasis: { disabled: true }, z: 2 + k * 0.01,
        });
      });
      legend.push({
        orient: "vertical", left: LEGEND_POS[i].left, top: LEGEND_POS[i].top,
        padding: [1, LEGEND_PAD_RIGHT[i], 1, 3], itemGap: 3, itemWidth: 13, itemHeight: 2, icon: "rect",
        backgroundColor: "#ffffff", borderColor: "#a8a8a8", borderWidth: 1, z: 10,
        selectedMode: false, data: names,
        formatter: (n: string) => {
          if (n === "WVLmean") return "{i|WVL}{s|mean}";
          if (n === "DLEn" || n === "VLEn" || n === "WVLEn") return "{i|" + n + "}";
          return "{r|" + n + "}";
        },
        textStyle: {
          fontFamily: FONT, fontSize: 24, color: "#000",
          rich: {
            r: { fontFamily: FONT, fontSize: 24, lineHeight: 25, color: "#000" },
            i: { fontFamily: FONT, fontStyle: "italic", fontSize: 24, lineHeight: 25, color: "#000" },
            s: { fontFamily: FONT, fontStyle: "italic", fontSize: 16, lineHeight: 10, verticalAlign: "bottom", color: "#000" },
          },
        },
      });
      graphic.push({
        type: "text", x: CAPTION_POS[i][0], y: CAPTION_POS[i][1], z: 20,
        style: { text: CAPTIONS[i], fontFamily: FONT, fontSize: 25, fill: "#000", align: "center", verticalAlign: "middle" },
      });
    });

    chart.setOption({
      animation: false,
      backgroundColor: "#ffffff",
      grid: GRIDS.map((g) => ({ ...g, show: true, borderColor: "#a8a8a8", borderWidth: 1, containLabel: false })),
      xAxis, yAxis, series, legend, graphic,
    });
    return () => chart.dispose();
  }, []);
  return <div ref={ref} style={{ position: "absolute", left: 0, top: 0, width: 576, height: 1025 }} />;
}

export default App;
